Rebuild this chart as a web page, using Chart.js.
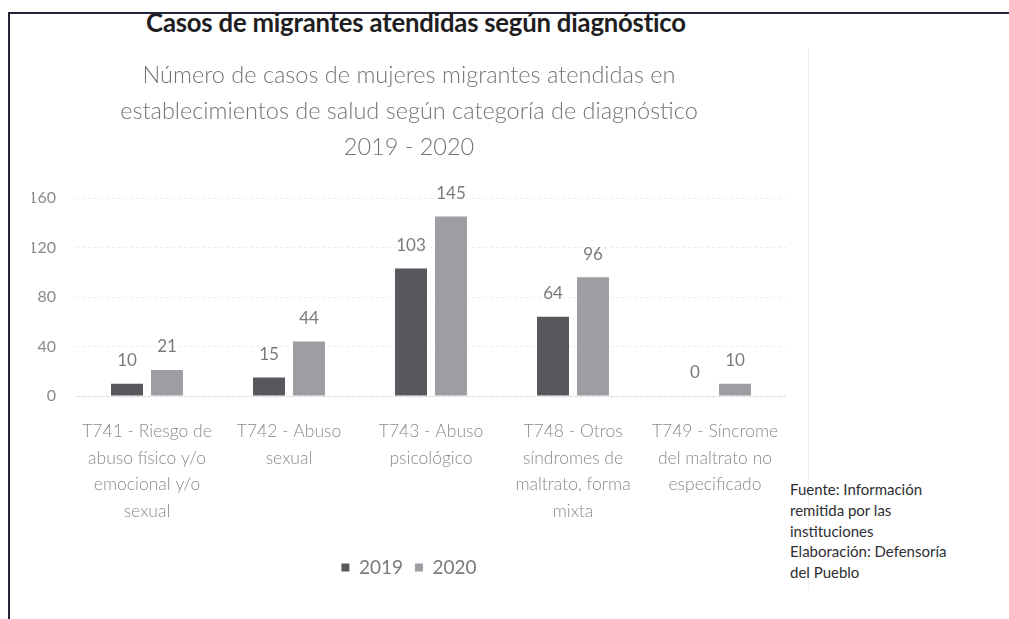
<!DOCTYPE html>
<html>
<head>
<meta charset="utf-8">
<script src="https://cdn.jsdelivr.net/npm/chart.js@4.4.1/dist/chart.umd.min.js"></script>
<style>
  html, body { margin: 0; padding: 0; background: #fff; }
  body { width: 1009px; height: 619px; position: relative; overflow: hidden; font-family: Lato, "Open Sans", sans-serif; }
  #frameTop { position: absolute; left: 8px; top: 12px; width: 1001px; height: 2px; background: #23263a; }
  #frameLeft { position: absolute; left: 8px; top: 12px; width: 2px; height: 607px; background: #23263a; }
  #mainTitle { position: absolute; left: 0; width: 832px; top: 6px; line-height: 32px; text-align: center; font-weight: bold; font-size: 25.7px; color: #1e1e22; letter-spacing: -0.2px; }
  #boxRight { position: absolute; left: 808px; top: 50px; width: 0; height: 540px; border-left: 1px dotted #e2e2e2; }
  #source { position: absolute; left: 790px; top: 479px; font-size: 15px; line-height: 20.8px; color: #2e2e33; }
  #chartWrap { position: absolute; left: 10px; top: 40px; width: 776px; height: 579px; }
</style>
</head>
<body>
<div id="frameTop"></div>
<div id="frameLeft"></div>
<div id="mainTitle">Casos de migrantes atendidas según diagnóstico</div>
<div id="boxRight"></div>
<div id="source">Fuente: Información<br>remitida por las<br>instituciones<br>Elaboración: Defensoría<br>del Pueblo</div>
<div id="chartWrap"><canvas id="c" width="776" height="579"></canvas></div>
<script>
const categories = [
  ["T741 - Riesgo de", "abuso físico y/o", "emocional y/o", "sexual"],
  ["T742 - Abuso", "sexual"],
  ["T743 - Abuso", "psicológico"],
  ["T748 - Otros", "síndromes de", "maltrato, forma", "mixta"],
  ["T749 - Síncrome", "del maltrato no", "especificado"]
];
const seriesNames = ["2019", "2020"];
const values2019 = [10, 15, 103, 64, 0];
const values2020 = [21, 44, 145, 96, 10];
const yTicks = [0, 40, 80, 120, 160];
const chartTitleLines = [
  "Número de casos de mujeres migrantes atendidas en",
  "establecimientos de salud según categoría de diagnóstico",
  "2019 - 2020"
];

const valueLabels = {
  id: 'valueLabels',
  afterDatasetsDraw(chart) {
    const ctx = chart.ctx;
    ctx.save();
    ctx.font = '17px Lato';
    ctx.fillStyle = '#7a7a7e';
    ctx.textAlign = 'center';
    ctx.textBaseline = 'middle';
    chart.data.datasets.forEach((ds, i) => {
      const meta = chart.getDatasetMeta(i);
      meta.data.forEach((el, j) => {
        ctx.fillText(String(ds.data[j]), el.x, el.y - 23);
      });
    });
    ctx.restore();
  }
};

new Chart(document.getElementById('c'), {
  type: 'bar',
  data: {
    labels: categories,
    datasets: [
      { label: seriesNames[0], data: values2019, backgroundColor: '#57585d' },
      { label: seriesNames[1], data: values2020, backgroundColor: '#9d9ea4' }
    ]
  },
  options: {
    responsive: false,
    devicePixelRatio: 1,
    animation: false,
    layout: { padding: { left: 22, right: 0, top: 0, bottom: 32 } },
    datasets: { bar: { categoryPercentage: 0.563, barPercentage: 0.8 } },
    plugins: {
      tooltip: { enabled: false },
      title: {
        display: true,
        text: chartTitleLines,
        color: '#747478',
        font: { family: 'Lato', size: 23.5, weight: 300, lineHeight: 1.532 },
        padding: { top: 17, bottom: 33 }
      },
      legend: {
        position: 'bottom',
        labels: {
          boxWidth: 8, boxHeight: 8, padding: 12,
          color: '#7a7a7e',
          font: { family: 'Lato', size: 19 }
        }
      }
    },
    scales: {
      y: {
        min: 0, max: 160,
        afterBuildTicks(scale) { scale.ticks = yTicks.map(v => ({ value: v })); },
        afterFit(scale) { scale.width = 44; },
        ticks: { color: '#8a8a8e', font: { family: 'Lato', size: 16 }, padding: 20 },
        grid: { color: 'rgba(0,0,0,0.07)', drawTicks: false },
        border: { display: false, dash: [3, 3] }
      },
      x: {
        afterFit(scale) { scale.height = 150; scale.paddingLeft = 0; scale.paddingRight = 0; },
        ticks: { color: '#8a8a8e', font: { family: 'Lato', size: 17.5, weight: 300, lineHeight: 1.52 }, padding: 22, maxRotation: 0, autoSkip: false },
        grid: { display: false, drawTicks: false },
        border: { display: true, color: 'rgba(0,0,0,0.08)' }
      }
    }
  },
  plugins: [valueLabels]
});
</script>
</body>
</html>
